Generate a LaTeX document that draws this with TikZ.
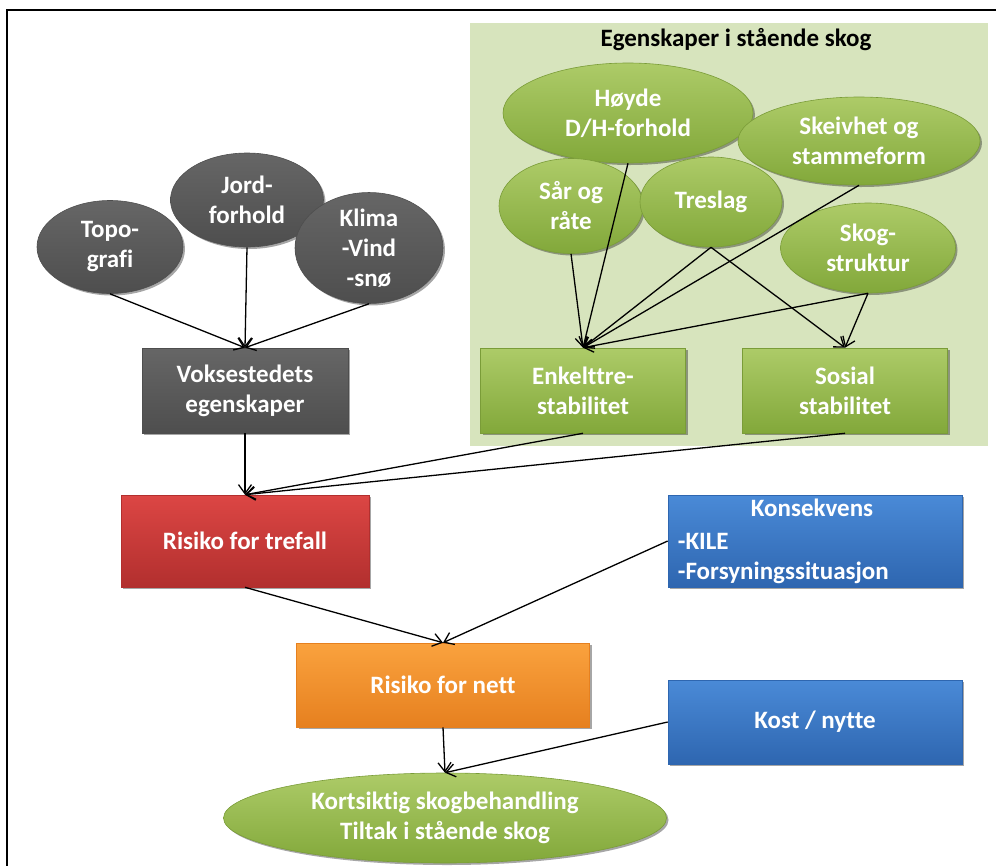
\documentclass[tikz,border=0pt]{standalone}
\usepackage{fontspec}
\setmainfont{Carlito}[Ligatures={NoCommon}]
\usetikzlibrary{arrows.meta,shapes.geometric,shadows,calc}
\definecolor{panelbg}{HTML}{D7E4BD}
\definecolor{grtop}{HTML}{ADCB68}
\definecolor{grbot}{HTML}{82A83A}
\definecolor{gredge}{HTML}{7A9C38}
\definecolor{gytop}{HTML}{666666}
\definecolor{gybot}{HTML}{4E4E4E}
\definecolor{rdtop}{HTML}{DC4644}
\definecolor{rdbot}{HTML}{B22F2E}
\definecolor{ortop}{HTML}{FAA23E}
\definecolor{orbot}{HTML}{E6801F}
\definecolor{bltop}{HTML}{4A8AD7}
\definecolor{blbot}{HTML}{2E66B0}
\begin{document}
\begin{tikzpicture}[x=1pt,y=-1pt,
  lbl/.style={font=\bfseries\fontsize{25}{30}\selectfont, text=white, align=center, inner sep=0pt},
  shade/.style={drop shadow={shadow xshift=2pt, shadow yshift=-2pt, opacity=0.35, fill=black}},
  grayell/.style={lbl, shade, ellipse, top color=gytop, bottom color=gybot, draw=gybot, line width=0.6pt},
  grayrect/.style={lbl, shade, rectangle, top color=gytop, bottom color=gybot, draw=gybot, line width=0.6pt},
  greenell/.style={lbl, shade, ellipse, top color=grtop, bottom color=grbot, draw=gredge, line width=0.6pt},
  greenrect/.style={lbl, shade, rectangle, top color=grtop, bottom color=grbot, draw=gredge, line width=0.6pt},
  redrect/.style={lbl, shade, rectangle, top color=rdtop, bottom color=rdbot, draw=rdbot, line width=0.6pt},
  orrect/.style={lbl, shade, rectangle, top color=ortop, bottom color=orbot, draw=orbot, line width=0.6pt},
  blrect/.style={lbl, shade, rectangle, top color=bltop, bottom color=blbot, draw=blbot, line width=0.6pt},
  conn/.style={draw=black, line width=1.3pt, -{Straight Barb[length=9pt,width=13pt,line width=1.3pt]}},
  framel/.style={draw=black, line width=2pt}
]
\useasboundingbox (0,0) rectangle (996,865);
% frame
\coordinate (fbl) at (7,866);
\coordinate (ftl) at (7,10);
\coordinate (ftr) at (997,10);
\draw[framel] (fbl) -- (ftl) -- (ftr);
% panel
\node[fill=panelbg, draw=none, minimum width=518pt, minimum height=423pt, inner sep=0pt] (panel) at (729,234.5) {};
\node[font=\bfseries\fontsize{25}{30}\selectfont, text=black, inner sep=0pt] (ptitle) at (736,40) {Egenskaper i stående skog};

% gray ellipses
\node[grayell, minimum width=146pt, minimum height=93pt] (topo) at (110,247) {Topo-\\grafi};
\node[grayell, minimum width=153pt, minimum height=94pt] (jord) at (247,200) {Jord-\\forhold};
\node[grayell, minimum width=148pt, minimum height=93pt] (klima) at (369,248) {Klima\\-Vind\\-snø};
\node[grayrect, minimum width=206pt, minimum height=85pt] (vok) at (245,390.5) {Voksestedets\\egenskaper};

% green ellipses
\node[greenell, minimum width=250pt, minimum height=100pt] (hoyde) at (628,113) {Høyde\\D/H-forhold};
\node[greenell, minimum width=242pt, minimum height=88pt] (skeiv) at (859,141) {Skeivhet og\\stammeform};
\node[greenell, minimum width=144pt, minimum height=95pt] (saar) at (571,206) {Sår og\\råte};
\node[greenell, minimum width=142pt, minimum height=90pt] (treslag) at (711,202) {Treslag};
\node[greenell, minimum width=175pt, minimum height=90pt] (skog) at (868,248) {Skog-\\struktur};
\node[greenrect, minimum width=205pt, minimum height=85pt] (enk) at (583,390.5) {Enkelttre-\\stabilitet};
\node[greenrect, minimum width=205pt, minimum height=85pt] (sos) at (845,390.5) {Sosial\\stabilitet};

% lower boxes
\node[redrect, minimum width=248pt, minimum height=92pt] (trefall) at (245,541) {Risiko for trefall};
\node[blrect, minimum width=294pt, minimum height=92pt] (konsek) at (815,541) {};
\node[lbl, anchor=base] (konsekt) at ($(konsek.north)+(-3,22)$) {Konsekvens};
\node[lbl, anchor=base west] (kile) at ($(konsek.north west)+(10,55)$) {-KILE};
\node[lbl, anchor=base west] (forsyn) at ($(konsek.north west)+(10,85)$) {-Forsyningssituasjon};
\node[orrect, minimum width=293pt, minimum height=84pt] (nett) at (443,685) {Risiko for nett};
\node[blrect, minimum width=294pt, minimum height=84pt] (kost) at (815,722) {Kost / nytte};
\node[greenell, minimum width=443pt, minimum height=90pt] (kort) at (445,818) {Kortsiktig skogbehandling\\Tiltak i stående skog};

% connectors
\draw[conn] (topo.south) -- (vok.north);
\draw[conn] (jord.south) -- (vok.north);
\draw[conn] (klima.south) -- (vok.north);

\draw[conn] (saar.south) -- (enk.north);
\draw[conn] (hoyde.south) -- (enk.north);
\draw[conn] (treslag.south) -- (enk.north);
\draw[conn] (skeiv.south) -- (enk.north);
\draw[conn] (skog.south) -- (enk.north);
\draw[conn] (treslag.south) -- (sos.north);
\draw[conn] (skog.south) -- (sos.north);

\draw[conn] (vok.south) -- (trefall.north);
\draw[conn] (enk.south) -- (trefall.north);
\draw[conn] (sos.south) -- (trefall.north);
\draw[conn] (trefall.south) -- (nett.north);
\draw[conn] (konsek.west) -- (nett.north);
\draw[conn] (nett.south) -- (kort.north);
\draw[conn] (kost.west) -- (kort.north);
\end{tikzpicture}
\end{document}
